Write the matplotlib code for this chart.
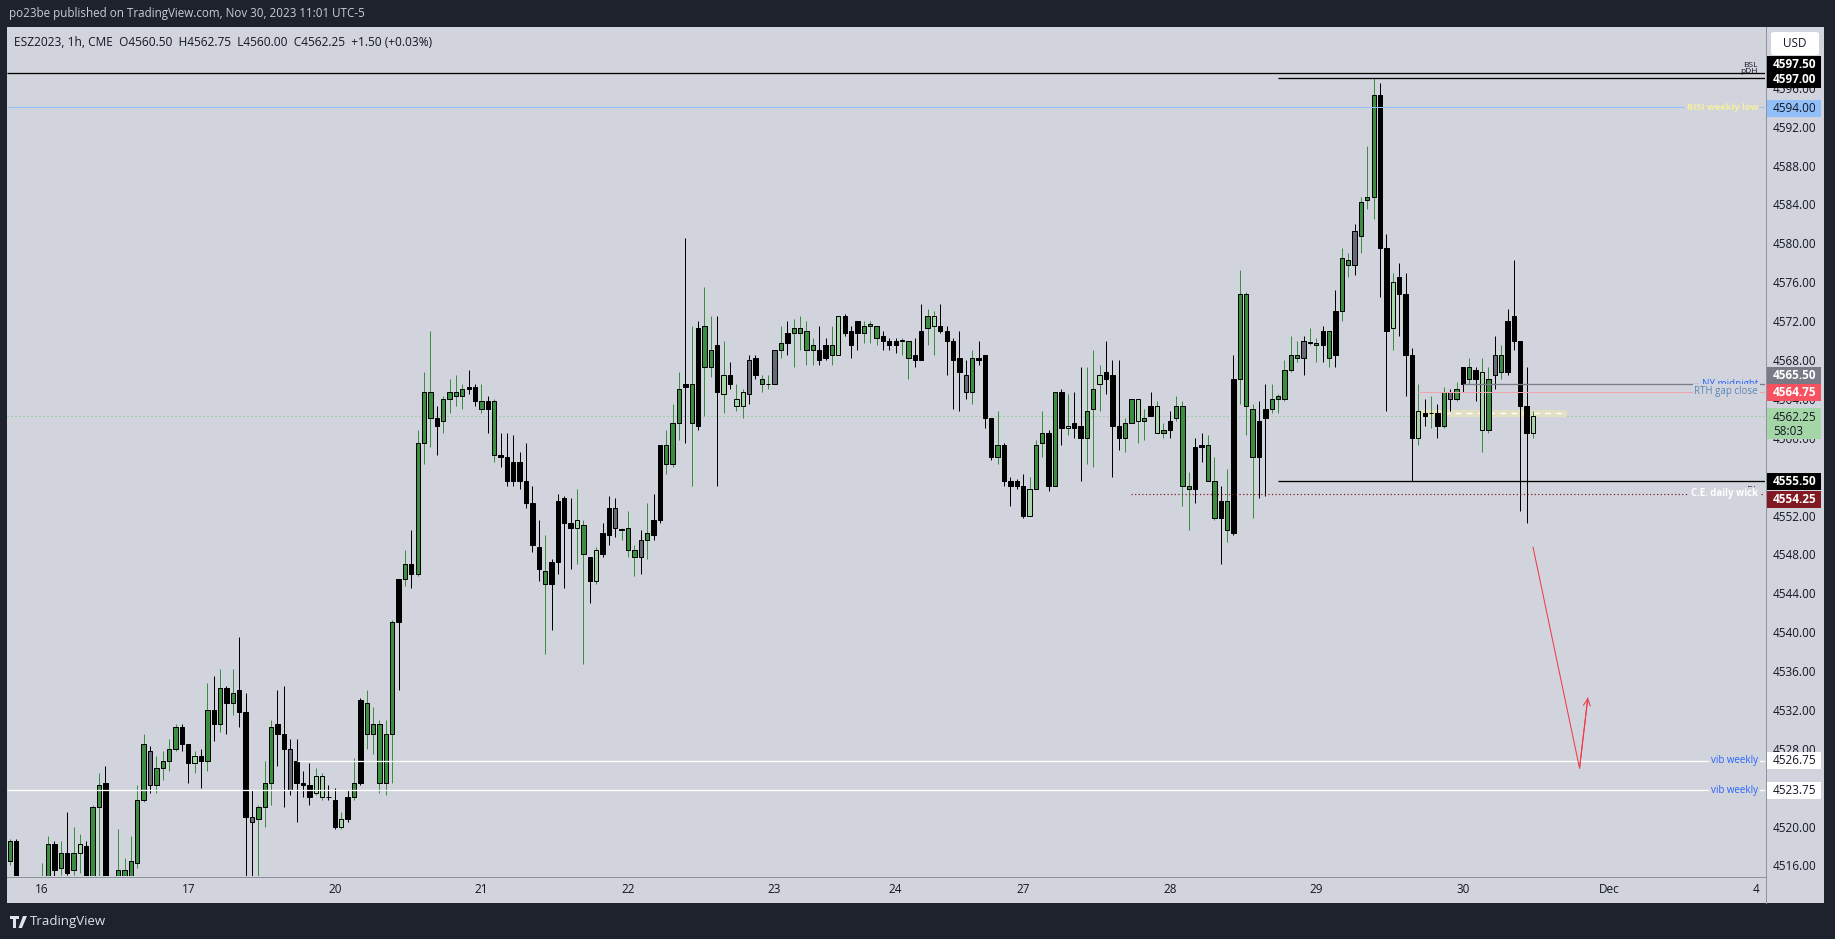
import matplotlib
matplotlib.use('Agg')
import matplotlib.pyplot as plt
from matplotlib.patches import Rectangle, FancyBboxPatch, Polygon
from matplotlib.lines import Line2D
import matplotlib.transforms as mtransforms
import numpy as np
import pandas as pd

W, H = 1835, 939

# ---------------- data ----------------
# hourly session segments of ESZ2023 (UTC-5): session start, number of hourly bars
session_start = ['2023-11-15 19:00', '2023-11-16 18:00', '2023-11-19 18:00', '2023-11-20 18:00',
                 '2023-11-21 18:00', '2023-11-22 18:00', '2023-11-23 18:00', '2023-11-26 18:00',
                 '2023-11-27 18:00', '2023-11-28 18:00', '2023-11-29 18:00', '2023-11-30 18:00',
                 '2023-12-03 18:00']
session_bars = [22, 23, 23, 23, 23, 19, 20, 23, 23, 23, 23, 23, 23]

opens = [
 4516.5, 4518.5, 4514.0, 4512.5, 4513.0, 4513.5, 4514.5, 4518.25, 4515.75, 4517.25,
 4515.5, 4517.25, 4518.0, 4514.75, 4522.0, 4524.5, 4513.0, 4514.25, 4515.5, 4514.5,
 4516.25, 4522.75, 4527.75, 4524.25, 4526.0, 4526.75, 4528.0, 4530.25, 4528.5, 4526.5,
 4527.25, 4526.75, 4532.0, 4530.5, 4534.25, 4532.75, 4534.0, 4531.75, 4521.0, 4520.75,
 4522.0, 4524.5, 4530.5, 4529.5, 4528.0, 4526.75, 4524.5, 4524.25, 4523.5, 4525.25,
 4523.0, 4522.75, 4520.0, 4520.75, 4523.0, 4524.5, 4532.75, 4529.5, 4530.5, 4524.5,
 4529.5, 4541.0, 4545.5, 4547.0, 4546.0, 4559.5, 4564.75, 4562.0, 4561.75, 4564.0,
 4564.75, 4564.25, 4565.0, 4565.25, 4563.75, 4563.0, 4563.75, 4558.25, 4558.0, 4555.5,
 4557.5, 4555.5, 4553.25, 4548.75, 4546.25, 4545.0, 4547.25, 4553.75, 4550.75, 4551.5,
 4551.0, 4547.75, 4545.25, 4548.0, 4550.0, 4552.75, 4550.5, 4550.75, 4548.5, 4547.75,
 4549.5, 4550.0, 4551.5, 4559.25, 4557.25, 4561.5, 4565.25, 4565.5, 4561.25, 4571.5,
 4567.25, 4569.5, 4564.5, 4566.5, 4564.0, 4563.25, 4564.5, 4568.25, 4566.0, 4565.5,
 4565.5, 4569.0, 4569.75, 4570.75, 4571.25, 4571.0, 4569.0, 4569.0, 4568.25, 4569.5,
 4568.5, 4572.5, 4571.0, 4572.0, 4570.75, 4571.5, 4571.5, 4570.5, 4570.0, 4569.5,
 4570.0, 4570.0, 4568.5, 4568.0, 4571.25, 4572.5, 4571.5, 4571.0, 4570.0, 4568.25,
 4566.5, 4564.75, 4568.0, 4568.5, 4562.0, 4558.0, 4559.25, 4555.5, 4555.5, 4555.0,
 4552.0, 4554.75, 4559.5, 4560.5, 4555.0, 4564.75, 4561.0, 4561.5, 4561.25, 4560.0,
 4563.0, 4565.5, 4566.75, 4566.5, 4561.25, 4560.0, 4561.5, 4564.0, 4561.75, 4562.25,
 4563.25, 4560.5, 4560.75, 4562.0, 4563.25, 4555.0, 4554.75, 4559.0, 4559.25, 4555.5,
 4551.75, 4553.5, 4550.25, 4566.0, 4574.75, 4563.0, 4558.0, 4562.0, 4563.0, 4564.0,
 4564.0, 4567.0, 4568.5, 4568.25, 4569.75, 4569.75, 4569.5, 4571.0, 4568.5, 4573.0,
 4578.25, 4577.75, 4580.75, 4584.5, 4584.75, 4595.25, 4579.5, 4571.25, 4576.5, 4574.75,
 4568.5, 4560.0, 4562.25, 4562.5, 4562.5, 4561.25, 4564.75, 4564.0, 4565.5, 4567.25,
 4566.0, 4566.75, 4560.75, 4566.5, 4568.5, 4566.75, 4572.5, 4570.0, 4563.25, 4560.5]

highs = [
 4518.75, 4518.75, 4514.5, 4514.0, 4514.25, 4516.25, 4519.0, 4518.5, 4518.5, 4521.5,
 4520.0, 4519.25, 4518.5, 4522.25, 4525.5, 4526.25, 4514.5, 4519.75, 4516.75, 4519.0,
 4524.25, 4529.5, 4528.25, 4527.25, 4527.75, 4529.0, 4530.5, 4530.5, 4528.5, 4527.75,
 4528.0, 4534.75, 4535.5, 4536.25, 4534.5, 4536.25, 4539.5, 4533.75, 4523.75, 4522.25,
 4526.75, 4531.0, 4534.0, 4534.5, 4529.0, 4529.0, 4525.75, 4526.5, 4526.0, 4525.5,
 4524.25, 4524.0, 4521.5, 4523.75, 4527.0, 4533.25, 4534.0, 4532.25, 4531.0, 4531.0,
 4541.25, 4545.5, 4548.5, 4550.5, 4560.75, 4566.75, 4571.0, 4563.25, 4564.25, 4566.0,
 4566.5, 4565.5, 4567.0, 4565.5, 4565.5, 4564.25, 4564.0, 4560.5, 4560.5, 4560.25,
 4558.5, 4559.5, 4555.0, 4551.5, 4550.0, 4547.5, 4554.25, 4554.0, 4553.75, 4554.75,
 4551.5, 4547.75, 4548.75, 4551.25, 4554.0, 4553.75, 4550.75, 4552.5, 4549.0, 4550.5,
 4553.25, 4554.25, 4559.25, 4560.75, 4563.5, 4566.75, 4580.5, 4571.5, 4572.0, 4575.5,
 4572.5, 4572.5, 4570.0, 4567.75, 4565.5, 4565.0, 4568.5, 4568.5, 4566.5, 4566.5,
 4569.0, 4571.5, 4572.0, 4572.25, 4572.5, 4572.0, 4570.25, 4571.5, 4570.25, 4571.5,
 4572.5, 4572.75, 4571.5, 4572.0, 4572.0, 4572.0, 4571.5, 4571.0, 4570.25, 4570.25,
 4570.25, 4570.0, 4570.25, 4573.75, 4573.25, 4573.0, 4573.75, 4571.5, 4570.25, 4571.0,
 4568.0, 4569.0, 4570.0, 4568.5, 4562.0, 4562.75, 4559.5, 4556.0, 4555.75, 4556.25,
 4556.0, 4559.75, 4562.75, 4560.75, 4564.75, 4565.0, 4564.5, 4564.75, 4567.25, 4567.25,
 4569.0, 4567.5, 4570.0, 4568.0, 4568.0, 4562.0, 4564.0, 4564.0, 4563.0, 4564.75,
 4563.75, 4561.5, 4562.75, 4564.25, 4563.75, 4556.5, 4560.0, 4560.5, 4560.25, 4558.0,
 4555.0, 4556.75, 4568.5, 4577.25, 4575.0, 4563.5, 4563.75, 4565.5, 4565.5, 4564.5,
 4568.0, 4570.5, 4570.0, 4570.5, 4571.25, 4570.25, 4571.5, 4571.0, 4575.25, 4579.5,
 4579.0, 4582.0, 4584.75, 4590.0, 4597.0, 4596.5, 4581.0, 4577.0, 4578.0, 4577.0,
 4569.25, 4565.5, 4564.0, 4564.25, 4563.5, 4565.25, 4565.0, 4565.75, 4567.25, 4568.25,
 4567.25, 4568.25, 4567.25, 4570.5, 4569.5, 4573.25, 4578.25, 4570.0, 4567.25, 4562.75]

lows = [
 4516.0, 4513.5, 4512.0, 4511.5, 4511.75, 4512.5, 4514.0, 4514.75, 4515.0, 4515.0,
 4515.0, 4515.25, 4514.5, 4514.25, 4514.5, 4512.0, 4510.5, 4513.5, 4513.0, 4514.0,
 4515.75, 4522.5, 4523.5, 4523.5, 4524.75, 4525.75, 4527.75, 4527.75, 4524.5, 4525.5,
 4524.0, 4525.75, 4528.75, 4529.75, 4529.5, 4531.5, 4530.25, 4512.5, 4513.0, 4514.5,
 4520.0, 4522.25, 4526.25, 4522.0, 4523.25, 4520.5, 4523.0, 4522.25, 4523.25, 4522.75,
 4522.75, 4519.75, 4519.75, 4520.5, 4522.75, 4524.25, 4528.0, 4527.5, 4523.5, 4523.25,
 4524.5, 4534.0, 4544.75, 4544.5, 4545.75, 4557.25, 4559.0, 4558.25, 4560.5, 4562.5,
 4563.25, 4563.0, 4564.5, 4563.25, 4562.5, 4560.5, 4557.5, 4557.0, 4555.0, 4555.0,
 4554.75, 4552.75, 4548.25, 4545.25, 4537.75, 4540.25, 4546.0, 4544.5, 4546.5, 4547.0,
 4536.75, 4543.0, 4545.0, 4547.75, 4549.0, 4549.75, 4549.5, 4547.75, 4545.75, 4546.0,
 4547.5, 4549.5, 4551.25, 4556.25, 4557.0, 4559.75, 4559.5, 4555.0, 4560.75, 4562.25,
 4566.25, 4555.0, 4562.5, 4565.0, 4562.75, 4562.0, 4563.5, 4566.0, 4564.75, 4565.0,
 4565.5, 4568.25, 4568.5, 4567.25, 4569.0, 4567.5, 4567.5, 4567.5, 4568.0, 4567.5,
 4568.5, 4570.5, 4568.25, 4569.0, 4569.75, 4569.75, 4569.5, 4569.0, 4569.0, 4568.75,
 4568.5, 4566.0, 4567.25, 4568.0, 4569.5, 4568.5, 4570.75, 4566.5, 4563.0, 4562.75,
 4564.0, 4563.5, 4567.5, 4561.0, 4557.75, 4557.25, 4555.0, 4553.0, 4554.75, 4551.75,
 4552.0, 4554.75, 4558.0, 4554.5, 4555.0, 4559.25, 4560.25, 4560.0, 4555.5, 4557.25,
 4557.0, 4562.75, 4564.5, 4556.0, 4558.75, 4558.5, 4561.5, 4559.5, 4559.75, 4562.25,
 4560.5, 4560.0, 4560.0, 4561.75, 4553.0, 4550.5, 4553.25, 4557.5, 4555.5, 4551.5,
 4547.0, 4549.25, 4550.0, 4563.5, 4560.25, 4551.75, 4553.75, 4554.0, 4562.5, 4562.5,
 4563.75, 4566.75, 4567.75, 4566.5, 4569.5, 4567.75, 4567.75, 4567.25, 4567.25, 4572.0,
 4576.5, 4576.75, 4579.0, 4583.5, 4582.5, 4574.5, 4562.75, 4569.0, 4570.5, 4564.25,
 4555.5, 4559.25, 4561.25, 4561.0, 4560.0, 4561.0, 4562.75, 4563.75, 4564.75, 4565.5,
 4563.75, 4558.5, 4560.5, 4565.0, 4566.0, 4566.5, 4569.0, 4552.5, 4551.25, 4560.0]

closes = [
 4518.5, 4514.0, 4512.5, 4513.0, 4513.5, 4514.75, 4518.25, 4515.5, 4517.25, 4515.25,
 4517.25, 4518.25, 4514.75, 4522.0, 4524.25, 4513.0, 4514.0, 4515.5, 4514.5, 4516.5,
 4522.75, 4528.5, 4524.25, 4526.0, 4526.75, 4528.0, 4530.25, 4528.5, 4526.5, 4527.25,
 4526.75, 4532.0, 4530.5, 4534.25, 4532.75, 4533.75, 4531.75, 4521.0, 4520.5, 4522.0,
 4524.5, 4530.25, 4529.5, 4528.0, 4523.75, 4524.5, 4524.25, 4523.0, 4525.25, 4523.0,
 4523.0, 4520.0, 4520.75, 4523.0, 4524.5, 4533.0, 4529.5, 4530.5, 4524.5, 4529.5,
 4541.0, 4545.5, 4547.0, 4546.0, 4559.5, 4564.75, 4562.0, 4561.25, 4564.0, 4564.75,
 4564.25, 4565.0, 4565.25, 4563.75, 4563.0, 4563.75, 4558.25, 4558.0, 4555.5, 4557.5,
 4555.5, 4553.25, 4549.0, 4546.5, 4545.0, 4547.25, 4553.5, 4551.25, 4551.25, 4550.75,
 4548.0, 4545.25, 4548.5, 4550.25, 4552.75, 4550.75, 4550.5, 4548.5, 4547.75, 4549.5,
 4550.25, 4551.5, 4559.25, 4557.25, 4561.5, 4565.0, 4565.5, 4561.5, 4571.25, 4567.25,
 4569.0, 4564.75, 4566.5, 4565.5, 4563.25, 4564.75, 4568.0, 4566.5, 4565.5, 4565.5,
 4569.0, 4569.75, 4570.75, 4571.25, 4570.75, 4569.0, 4569.5, 4568.0, 4569.5, 4568.5,
 4572.5, 4570.75, 4569.5, 4570.75, 4571.5, 4571.75, 4570.25, 4570.0, 4569.5, 4570.0,
 4570.0, 4568.25, 4568.0, 4571.0, 4572.5, 4571.5, 4571.0, 4570.0, 4568.0, 4566.75,
 4564.75, 4568.25, 4568.25, 4562.0, 4558.0, 4559.25, 4555.5, 4555.0, 4555.0, 4552.0,
 4554.75, 4559.25, 4560.5, 4555.0, 4564.75, 4561.0, 4561.25, 4561.0, 4560.0, 4562.75,
 4565.0, 4566.5, 4566.0, 4561.25, 4560.0, 4561.5, 4564.0, 4561.75, 4562.0, 4563.25,
 4560.5, 4560.75, 4561.75, 4563.25, 4555.0, 4554.75, 4559.0, 4559.25, 4555.5, 4551.75,
 4553.5, 4550.5, 4566.0, 4574.75, 4563.25, 4558.0, 4561.75, 4563.0, 4564.0, 4564.25,
 4567.0, 4568.5, 4568.25, 4570.0, 4569.75, 4569.5, 4571.0, 4568.25, 4573.0, 4578.5,
 4577.75, 4581.25, 4584.25, 4584.75, 4595.25, 4579.5, 4571.0, 4576.0, 4574.75, 4568.5,
 4560.0, 4562.75, 4562.5, 4562.5, 4561.25, 4564.75, 4564.0, 4565.0, 4567.25, 4566.0,
 4567.0, 4560.75, 4566.0, 4568.5, 4566.75, 4572.0, 4570.0, 4563.25, 4560.5, 4562.25]

# candle body category: g = up, b = down, l = light up, y = grey
kinds = list(
 'gbbggggbgb'
 'glbggbgggg'
 'ggyggggbbl'
 'bgbgbgbbyg'
 'ggbbybbbll'
 'bblbgbgggg'
 'gbgbgggbgg'
 'ggbbgbgbbb'
 'bbbbgbbbbl'
 'gblbbygggy'
 'gbbgggbgbg'
 'gblbllybgg'
 'ygbggggbbg'
 'lbbbgggbbb'
 'ggbbglbbbb'
 'ygbbbgbbbb'
 'lggbgblbbg'
 'glbbbgglgb'
 'lgbgggbbgg'
 'bgbgggbbgg'
 'gggyggbgbg'
 'gygggbblbb'
 'blbgbgygbg'
 'blgygbbbbl')

# horizontal levels
lvl_price = [4597.50, 4597.00, 4594.00, 4565.50, 4564.75, 4555.50, 4554.25, 4526.75, 4523.75]
lvl_text = ['BSL', 'pDH', 'BISI weekly low', 'NY midnight', 'RTH gap close', 'pDL',
            'C.E. daily wick', 'vib weekly', 'vib weekly']
lvl_start = [None, '2023-11-28 18:00', None, '2023-11-30 00:00', '2023-11-29 16:00',
             '2023-11-28 18:00', '2023-11-27 18:00', '2023-11-19 18:00', None]

last_price = 4562.25
countdown = '58:03'
zone_start, zone_end = '2023-11-29 16:00', '2023-11-30 16:00'
zone_lo, zone_hi = 4562.1, 4562.9

arrow_t = ['2023-11-30 11:00', '2023-11-30 19:18', '2023-11-30 20:36']
arrow_p = [4548.75, 4526.0, 4533.25]

legend = 'ESZ2023, 1h, CME  O4560.50  H4562.75  L4560.00  C4562.25  +1.50 (+0.03%)'
header = 'po23be published on TradingView.com, Nov 30, 2023 11:01 UTC-5'

# ---------------- timeline ----------------
stamps = []
for s, n in zip(session_start, session_bars):
    stamps.extend(pd.date_range(s, periods=n, freq='h'))
stamps = pd.DatetimeIndex(stamps)
pos = {t: i for i, t in enumerate(stamps)}

def tpos(ts):
    ts = pd.Timestamp(ts)
    base = ts.floor('h')
    return pos[base] + (ts - base) / pd.Timedelta('1h')

n = len(opens)
xs = np.arange(n)
o = np.array(opens); hi = np.array(highs); lo = np.array(lows); c = np.array(closes)

# ---------------- figure ----------------
BG = '#1e222d'
PANEL = '#d1d4dc'
TXT = '#131722'
FONT = ['Open Sans', 'DejaVu Sans']
plt.rcParams['font.family'] = FONT

fig = plt.figure(figsize=(W / 100, H / 100), dpi=100, facecolor=BG)

def fx(px):
    return px / W

def fy(py):
    return 1 - py / H

fig.patches.append(Rectangle((fx(7), fy(903)), fx(1824) - fx(7), fy(27) - fy(903),
                             transform=fig.transFigure, facecolor=PANEL, edgecolor='none', zorder=-5))

AX_L, AX_R, AX_T, AX_B = 7, 1765, 27, 876
ax = fig.add_axes([fx(AX_L), fy(AX_B), fx(AX_R) - fx(AX_L), fy(AX_T) - fy(AX_B)])
ax.set_zorder(1)
ax.set_facecolor(PANEL)
for s in ax.spines.values():
    s.set_visible(False)

XMIN, XMAX = -0.44, 275.4
YMIN, YMAX = 4514.91, 4602.26
ax.set_xlim(XMIN, XMAX)
ax.set_ylim(YMIN, YMAX)
ppu = (AX_B - AX_T) / (YMAX - YMIN)

def axx(px):
    return (px - AX_L) / (AX_R - AX_L)

PX = 0.72  # one pixel in points

# candles
body_col = {'g': '#3b8e3f', 'b': '#000000', 'l': '#a5d6a7', 'y': '#666a75'}
wick_col = {'g': '#3b8e3f', 'b': '#000000', 'l': '#3b8e3f', 'y': '#000000'}
ax.vlines(xs, lo, hi, colors=[wick_col[k] for k in kinds], linewidth=1.0 * PX, zorder=2)
bot = np.minimum(o, c)
hgt = np.maximum(np.abs(c - o), 0.06)
ax.bar(xs, hgt, bottom=bot, width=0.68, color=[body_col[k] for k in kinds],
       edgecolor='black', linewidth=1.0 * PX, zorder=3)

# ticks
yt = np.arange(4516, 4597, 4)
ax.yaxis.tick_right()
ax.set_yticks(yt)
ax.set_yticklabels([f'{v:.2f}' for v in yt])
ax.tick_params(axis='y', length=0, pad=8 * PX, labelsize=8.5, labelcolor=TXT)

tick_idx = [i for i, t in enumerate(stamps) if t.hour == 0]
tick_lab = [('Dec' if (stamps[i].day == 1) else str(stamps[i].day)) for i in tick_idx]
ax.set_xticks(tick_idx)
ax.set_xticklabels(tick_lab)
ax.tick_params(axis='x', length=0, pad=5, labelsize=8.5, labelcolor=TXT)

# separators
fig.add_artist(Line2D([fx(1765.5), fx(1765.5)], [fy(27), fy(903)], color='#8f929b', lw=1.0 * PX, zorder=3))
fig.add_artist(Line2D([fx(7), fx(1765.5)], [fy(876.5), fy(876.5)], color='#8f929b', lw=1.0 * PX, zorder=3))

# levels
lvl_color = ['#000000', '#000000', '#90bff9', '#787b86', '#f0a3aa', '#000000', '#801922', '#ffffff', '#ffffff']
lvl_ls = ['-', '-', '-', '-', '-', '-', (0, (1, 2)), '-', '-']
lvl_lw = [1.3, 1.3, 1.0, 1.3, 1.0, 1.3, 1.2, 1.3, 1.3]
txt_color = [TXT, TXT, '#f5ef9f', '#2962ff', '#5a86b3', TXT, '#ffffff', '#2962ff', '#2962ff']
txt_weight = ['normal', 'normal', 'bold', 'normal', 'normal', 'normal', 'bold', 'normal', 'normal']
txt_size = [6, 6, 6.7, 7.0, 7.0, 6, 6.9, 7.0, 7.0]
txt_dy = [-8, -6.5, 0, 0, 0, 8.5, 0, 0, 0]  # px, positive = down
txt_mask = [False, False, True, True, True, False, True, True, True]

ytr = ax.get_yaxis_transform()
for p, t, st, col, ls, lw, tc, tw, ts, dy, mk in zip(lvl_price, lvl_text, lvl_start, lvl_color, lvl_ls,
                                                     lvl_lw, txt_color, txt_weight, txt_size, txt_dy, txt_mask):
    x0 = XMIN if st is None else tpos(st)
    ax.hlines(p, x0, XMAX, colors=col, linestyles=ls, linewidth=lw * PX, zorder=4)
    tr = mtransforms.offset_copy(ytr, fig=fig, x=0, y=-dy, units='dots')
    kw = dict(transform=tr, ha='right', va='center', color=tc, fontsize=ts, fontweight=tw, zorder=6)
    if mk:
        kw['bbox'] = dict(facecolor=PANEL, edgecolor='none', pad=1.2)
    ax.text(axx(1758), p, t, **kw)

# current price dotted line
ax.axhline(last_price, color='#7cc27f', linestyle=(0, (1, 3)), linewidth=1.0 * PX, zorder=1.5)

# zone box with dashed middle line
zs, ze = tpos(zone_start) + 0.3, tpos(zone_end) + 0.4
ax.add_patch(Rectangle((zs, zone_lo), ze - zs, zone_hi - zone_lo, facecolor='#e3dfc3',
                       edgecolor='none', zorder=1.8))
ax.hlines((zone_lo + zone_hi) / 2, tpos('2023-11-29 21:00'), ze, colors='white',
          linestyles=(0, (4, 4)), linewidth=1.4 * PX, zorder=1.9)

# red arrow path
ax_pts = [tpos(t) for t in arrow_t]
ax.plot(ax_pts, arrow_p, color='#f23645', lw=1.0 * PX, zorder=5, solid_capstyle='round')
ax.annotate('', xy=(ax_pts[-1], arrow_p[-1]), xytext=(ax_pts[-2], arrow_p[-2]),
            arrowprops=dict(arrowstyle='->,head_length=0.5,head_width=0.25', color='#f23645',
                            lw=1.0 * PX, shrinkA=0, shrinkB=0), zorder=5)

# price-axis label boxes
box_price = [4597.50, 4597.00, 4594.00, 4565.50, 4564.75, 4555.50, 4554.25, 4526.75, 4523.75]
box_fc = ['#000000', '#000000', '#90bff9', '#787b86', '#f7525f', '#000000', '#801922', '#ffffff', '#ffffff']
box_tc = ['#ffffff', '#ffffff', TXT, '#ffffff', '#ffffff', '#ffffff', '#ffffff', TXT, TXT]
box_dy = [-9, 1, 1.5, -9, 1, 0.5, 5.5, 0, 0]
BOX_H = 17

def price_box(p, dy, h, top_off, fc):
    yc = p - dy / ppu
    ax.add_patch(Rectangle((axx(1766), yc - (h - top_off) / ppu), axx(1821) - axx(1766), h / ppu,
                           transform=ytr, facecolor=fc, edgecolor='none', clip_on=False, zorder=10))
    return yc

for p, fc, tc, dy in zip(box_price, box_fc, box_tc, box_dy):
    yc = price_box(p, dy, BOX_H, BOX_H / 2, fc)
    ax.text(axx(1773), yc, f'{p:.2f}', transform=ytr, ha='left', va='center', fontsize=8.5,
            color=tc, fontweight='bold' if tc == '#ffffff' else 'normal', clip_on=False, zorder=11)

# current price box (two lines)
yc = price_box(last_price, 0, 31, 7.5, '#a5d6a7')
ax.text(axx(1773), yc, f'{last_price:.2f}', transform=mtransforms.offset_copy(ytr, fig=fig, y=-1.5, units='dots'),
        ha='left', va='center', fontsize=8.5, color=TXT, clip_on=False, zorder=11)
ax.text(axx(1773), yc, countdown, transform=mtransforms.offset_copy(ytr, fig=fig, y=-15.5, units='dots'),
        ha='left', va='center', fontsize=8.5, color=TXT, clip_on=False, zorder=11)

# USD box
fig.patches.append(FancyBboxPatch((fx(1771), fy(55)), fx(1819) - fx(1771), fy(32) - fy(55),
                                  boxstyle='round,pad=0,rounding_size=0.002', transform=fig.transFigure,
                                  facecolor='white', edgecolor='none', zorder=5))
fig.text(fx(1795), fy(43.5), 'USD', ha='center', va='center', fontsize=8.5, color=TXT, zorder=6)

# header / legend
fig.text(fx(9), fy(13), header, ha='left', va='center', fontsize=8.4, color='#c9ccd4')
ax.text(axx(14), 0, legend, transform=mtransforms.offset_copy(ax.transAxes, fig=fig, y=(AX_B - AX_T) - 15, units='dots'),
        ha='left', va='center', fontsize=8.6, color=TXT, zorder=12)

# TradingView logo
def P(px, py):
    return (fx(px), fy(py))
fig.patches.append(Polygon([P(10, 916), P(19, 916), P(19, 919), P(16, 919), P(16, 928), P(13, 928), P(13, 919), P(10, 919)],
                           closed=True, transform=fig.transFigure, facecolor='#e0e3eb', edgecolor='none'))
fig.patches.append(Polygon([P(23, 916), P(27, 916), P(22, 928), P(18.5, 928)], closed=True,
                           transform=fig.transFigure, facecolor='#e0e3eb', edgecolor='none'))
fig.text(fx(30), fy(922), 'TradingView', ha='left', va='center', fontsize=9.5, color='#e0e3eb')

fig.savefig('out.png', dpi=100, facecolor=BG)
